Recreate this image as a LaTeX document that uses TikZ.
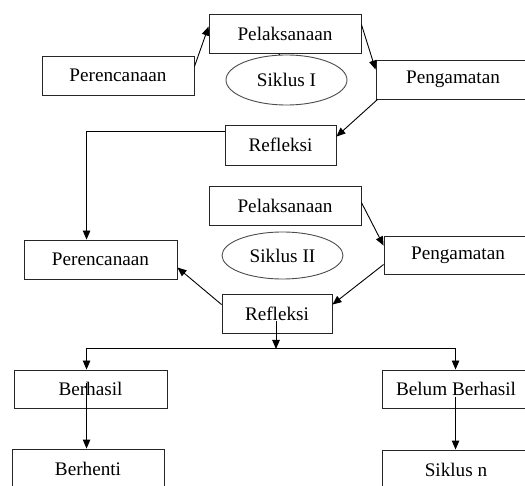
\documentclass[tikz,border=0pt]{standalone}
\usepackage{fontspec}
\setmainfont{Liberation Serif}
\usetikzlibrary{arrows.meta,calc,shapes.geometric}
\begin{document}
\begin{tikzpicture}[x=1pt,y=-1pt,
  box/.style={draw=black!85,line width=0.9pt,rectangle,inner sep=0pt,font=\fontsize{19.2}{23}\selectfont},
  oval/.style={draw=black!70,line width=0.9pt,ellipse,inner sep=0pt,font=\fontsize{19.2}{23}\selectfont},
  conn/.style={line width=0.9pt,draw=black},
  arr/.style={conn,-{Triangle[length=9pt,width=7.5pt]}}]
\clip (0,0) rectangle (525,486);
\node[box,minimum width=152,minimum height=39] (pel1) at (285,33.5) {Pelaksanaan};
\node[box,minimum width=152,minimum height=39] (per1) at (118,75.5) {Perencanaan};
\node[oval,minimum width=121,minimum height=50] (sik1) at (286.5,80) {Siklus I};
\node[box,minimum width=154,minimum height=39] (pen1) at (453,79.5) {Pengamatan};
\node[box,minimum width=111,minimum height=40] (ref1) at (280.5,145) {Refleksi};
\node[box,minimum width=152,minimum height=39] (pel2) at (285,205.5) {Pelaksanaan};
\node[box,minimum width=153,minimum height=39] (per2) at (100.5,259.5) {Perencanaan};
\node[oval,minimum width=121,minimum height=47] (sik2) at (282.5,255.5) {Siklus II};
\node[box,minimum width=148,minimum height=38] (pen2) at (458,255) {Pengamatan};
\node[box,minimum width=110,minimum height=39] (ref2) at (277,313.5) {Refleksi};
\node[box,minimum width=153,minimum height=38] (ber) at (90.5,389) {Berhasil};
\node[box,minimum width=148,minimum height=38] (bel) at (456,389) {Belum Berhasil};
\node[box,minimum width=152,minimum height=40] (bhen) at (88,469) {Berhenti};
\node[box,minimum width=148,minimum height=40] (sikn) at (456,470) {Siklus n};
\coordinate (split) at (276,349);
% cycle I
\draw[arr] ($(per1.north east)+(0,11)$) -- ($(pel1.north west)+(0,13)$);
\draw[arr] ($(pel1.north east)+(0,11)$) -- ($(pen1.north west)+(0,10)$);
\draw[arr] ($(pen1.south west)+(2,0)$) -- ($(ref1.north east)+(0,12)$);
\draw[conn] ($(pel1.south west)+(70,0)$) -- ($(sik1.north)+(-7,0.5)$);
\draw[arr] ($(ref1.north west)+(0,7)$) -| ($(per2.north west)+(63,0)$);
% cycle II
\draw[arr] ($(pel2.north east)+(0,17)$) -- ($(pen2.north west)+(0,10)$);
\draw[arr] ($(pen2.north west)+(0,29)$) -- ($(ref2.north east)+(0,11)$);
\draw[arr] ($(ref2.north west)+(0,11)$) -- ($(per2.north east)+(0,28)$);
% decision
\draw[arr] ($(ref2.center)+(-1,8)$) -- (split);
\draw[conn] ($(ber.north west)+(73,-21)$) -- ($(bel.north west)+(74,-21)$);
\draw[arr] ($(ber.north west)+(73,-21.45)$) -- ($(ber.north west)+(73,0)$);
\draw[arr] ($(bel.north west)+(74,-21.45)$) -- ($(bel.north west)+(74,0)$);
\draw[arr] ($(ber.north west)+(73,13)$) -- ($(bhen.north west)+(75,0)$);
\draw[arr] ($(bel.north west)+(74,27)$) -- ($(sikn.north west)+(74,0)$);
\end{tikzpicture}
\end{document}
